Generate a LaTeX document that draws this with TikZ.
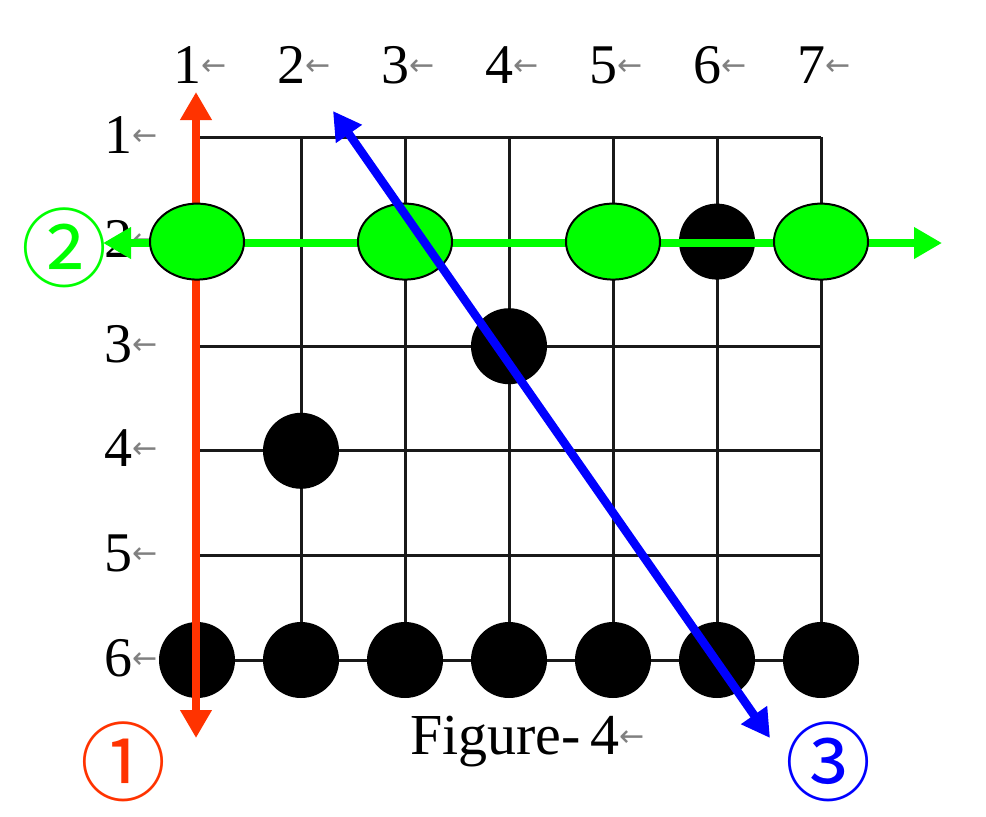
\documentclass[tikz,border=0pt]{standalone}
\usepackage{fontspec}
\setmainfont{Liberation Serif}
\newfontfamily\arrfont{DejaVu Sans}
\newfontfamily\cjkfont{Noto Sans CJK JP}
\usetikzlibrary{arrows.meta}
\definecolor{redo}{HTML}{FF3300}
\definecolor{gre}{HTML}{00FF00}
\definecolor{blu}{HTML}{0000FF}
\newcommand{\pmark}{\raisebox{8pt}{\color{black!50}\arrfont\fontsize{30}{30}\selectfont ←}}
\tikzset{
  gridline/.style={draw=black!90, line width=3pt},
  stone/.style={fill=black},
  greenstone/.style={draw=black, line width=2pt, fill=gre},
  lbl/.style={inner sep=0pt, anchor=base west, font=\fontsize{56}{56}\selectfont},
  bigarrow/.style={line width=8.5pt, {Triangle[width=30pt,length=28pt]}-{Triangle[width=30pt,length=28pt]}},
  circnum/.style={inner sep=0pt, font=\cjkfont\fontsize{86}{86}\selectfont}
}
\begin{document}
\begin{tikzpicture}[x=1pt,y=-1pt]
\useasboundingbox (0,0) rectangle (986,817);
% grid coordinates
\foreach \c in {1,...,7}{
  \foreach \r in {1,...,6}{
    \coordinate (p\c\r) at ({197+104*(\c-1)},{137+104.6*(\r-1)});
  }
}
% grid
\foreach \r in {1,...,6}{ \draw[gridline] (p1\r) -- (p7\r); }
\foreach \c in {1,...,7}{ \draw[gridline] (p\c1) -- (p\c6); }
% column labels
\foreach \c in {1,...,7}{
  \node[lbl] (col\c) at ({197+104*(\c-1)-24},83) {\c\pmark};
}
% row labels
\foreach \r in {1,...,6}{
  \node[lbl] (row\r) at (104,{137+104.6*(\r-1)+16}) {\r\pmark};
}
% black stones
\foreach \p in {p62,p43,p24,p16,p26,p36,p46,p56,p66,p76}{
  \fill[stone] (\p) circle (38);
}
% red arrow (1)
\coordinate (rtop) at (196,92);
\coordinate (rbot) at (196,738);
\draw[redo, bigarrow] (rbot) -- (rtop);
% green arrow (2)
\coordinate (gleft) at (103,243);
\coordinate (gright) at (942,243);
\draw[gre, bigarrow] (gleft) -- (gright);
% green stones
\foreach \c in {1,3,5,7}{
  \draw[greenstone] (p\c2) ellipse (47 and 38);
}
% blue arrow (3)
\coordinate (btop) at (333,111);
\coordinate (bbot) at (770,738);
\draw[blu, bigarrow] (btop) -- (bbot);
% caption
\node[lbl, font=\fontsize{58}{58}\selectfont] (cap) at (410,754) {Figure-\,4\pmark};
% circled numbers
\node[circnum, text=redo] (n1) at (123,762) {①};
\node[circnum, text=gre] (n2) at (64,248) {②};
\node[circnum, text=blu] (n3) at (828,762) {③};
\end{tikzpicture}
\end{document}
